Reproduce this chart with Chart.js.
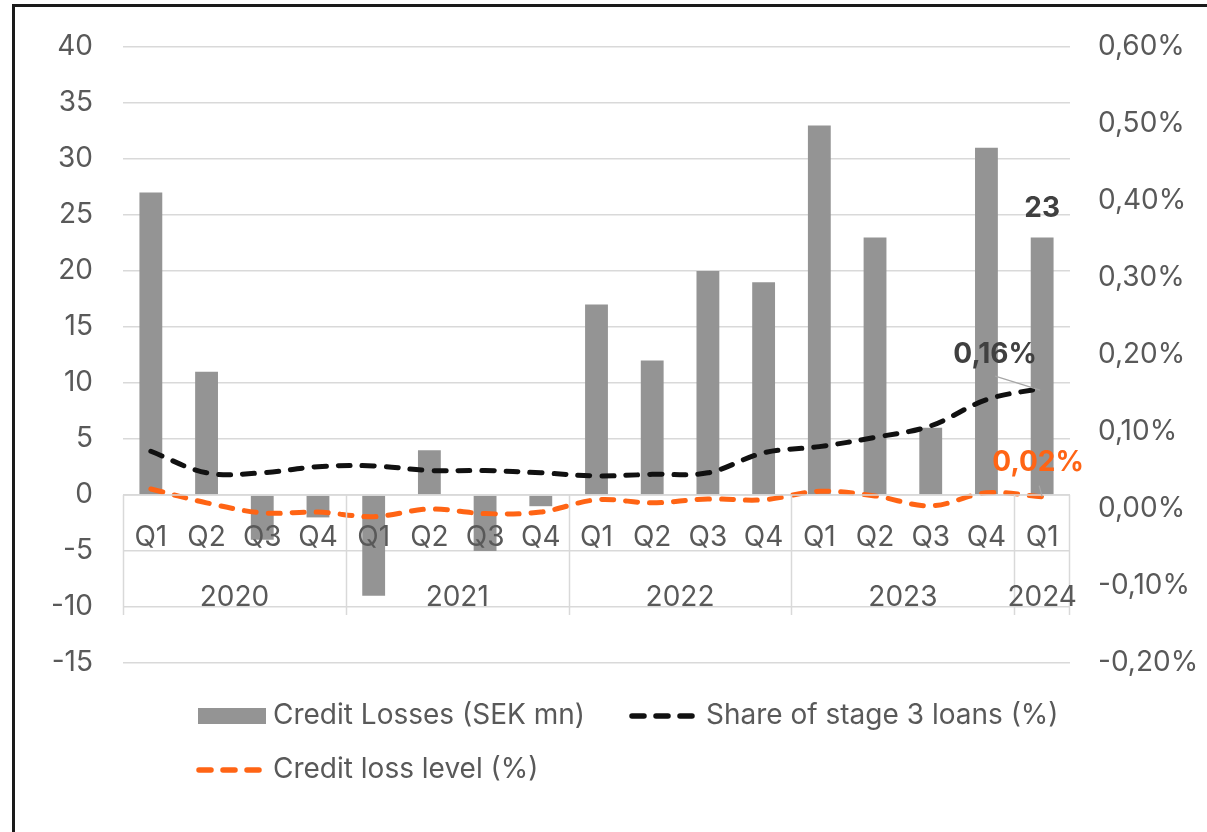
<!DOCTYPE html>
<html>
<head>
<meta charset="utf-8">
<title>Credit losses</title>
<script src="https://cdn.jsdelivr.net/npm/chart.js@4.4.1/dist/chart.umd.min.js"></script>
<style>
  html, body { margin: 0; padding: 0; background: #fff; overflow: hidden; }
  #wrap { position: relative; width: 1207px; height: 832px; }
  #frame { position: absolute; left: 12px; top: 4px; width: 1400px; height: 1000px;
           border-top: 3px solid #1a1a1a; border-left: 3px solid #1a1a1a; }
  #chart { position: absolute; left: 0; top: 0; }
</style>
</head>
<body>
<div id="wrap">
  <div id="frame"></div>
  <canvas id="chart" width="1207" height="832"></canvas>
</div>
<script>
// Datos
const quarters = ["Q1", "Q2", "Q3", "Q4", "Q1", "Q2", "Q3", "Q4", "Q1", "Q2", "Q3", "Q4", "Q1", "Q2", "Q3", "Q4", "Q1"];
const yearOfQuarter = ["2020", "2020", "2020", "2020", "2021", "2021", "2021", "2021", "2022", "2022", "2022", "2022", "2023", "2023", "2023", "2023", "2024"];
const creditLosses = [27, 11, -4, -2, -9, 4, -5, -1, 17, 12, 20, 19, 33, 23, 6, 31, 23];
const stage3Share = [0.075, 0.047, 0.047, 0.055, 0.056, 0.050, 0.050, 0.047, 0.043, 0.045, 0.047, 0.073, 0.081, 0.093, 0.108, 0.142, 0.157];
const creditLossLevel = [0.026, 0.008, -0.005, -0.004, -0.010, 0.000, -0.006, -0.004, 0.012, 0.008, 0.013, 0.012, 0.023, 0.017, 0.004, 0.021, 0.016];

const GRAY = "#949494";
const BLACK = "#111111";
const ORANGE = "#ff6414";
const TEXT = "#595959";
const GRID = "#d9d9d9";
const FONT = "Inter";
const FONT_SIZE = 28;

Chart.defaults.font.family = FONT;
Chart.defaults.font.size = FONT_SIZE;
Chart.defaults.color = TEXT;

const pct = v => v.toFixed(2).replace(".", ",") + "%";

// Eje de categorias en dos niveles (trimestre / año), como en Excel
const categoryAxis = {
    id: "categoryAxis",
    afterDatasetsDraw(chart) {
        const { ctx, chartArea, scales: { x, y } } = chart;
        const y0 = y.getPixelForValue(0);
        const half = (x.getPixelForValue(1) - x.getPixelForValue(0)) / 2;

        ctx.save();
        ctx.strokeStyle = GRID;
        ctx.lineWidth = 1.5;
        ctx.beginPath();
        ctx.moveTo(chartArea.left, y0);
        ctx.lineTo(chartArea.right, y0);
        ctx.stroke();

        // grupos por año
        const groups = [];
        yearOfQuarter.forEach((yr, i) => {
            if (i === 0 || yr !== yearOfQuarter[i - 1]) groups.push({ year: yr, start: i, end: i });
            else groups[groups.length - 1].end = i;
        });

        ctx.beginPath();
        groups.forEach(g => {
            const px = Math.round(x.getPixelForValue(g.start) - half) + 0.5;
            ctx.moveTo(px, y0);
            ctx.lineTo(px, y0 + 120);
        });
        const last = Math.round(x.getPixelForValue(quarters.length - 1) + half) - 0.5;
        ctx.moveTo(last, y0);
        ctx.lineTo(last, y0 + 120);
        ctx.stroke();

        ctx.fillStyle = TEXT;
        ctx.font = `${FONT_SIZE}px ${FONT}`;
        ctx.textAlign = "center";
        ctx.textBaseline = "middle";
        quarters.forEach((q, i) => ctx.fillText(q, x.getPixelForValue(i), y0 + 43));
        groups.forEach(g => {
            const cx = (x.getPixelForValue(g.start) + x.getPixelForValue(g.end)) / 2;
            ctx.fillText(g.year, cx, y0 + 103);
        });
        ctx.restore();
    }
};

// Etiquetas del último punto
const lastLabels = {
    id: "lastLabels",
    afterDatasetsDraw(chart) {
        const { ctx } = chart;
        const n = quarters.length - 1;
        const bar = chart.getDatasetMeta(2).data[n];
        const share = chart.getDatasetMeta(0).data[n];
        const level = chart.getDatasetMeta(1).data[n];

        ctx.save();
        ctx.font = `bold ${FONT_SIZE}px ${FONT}`;
        ctx.textAlign = "center";
        ctx.textBaseline = "middle";

        ctx.fillStyle = "#404040";
        ctx.fillText(String(creditLosses[n]), bar.x, bar.y - 29);

        // lineas guia
        ctx.strokeStyle = "#a6a6a6";
        ctx.lineWidth = 1.2;
        ctx.beginPath();
        ctx.moveTo(share.x - 47, share.y - 12);
        ctx.lineTo(share.x - 2, share.y + 2);
        ctx.moveTo(level.x - 3, level.y - 11);
        ctx.lineTo(level.x, level.y);
        ctx.stroke();

        ctx.fillStyle = "#404040";
        ctx.fillText(pct(stage3Share[n]), share.x - 47, share.y - 34);
        ctx.fillStyle = ORANGE;
        ctx.fillText(pct(creditLossLevel[n]), level.x - 4, level.y - 34);
        ctx.restore();
    }
};

// Leyenda en dos filas
const legendColumns = [198, 631];
const legendRows = [716, 770];
const legendOrder = [2, 0, 1];

const bottomLegend = {
    id: "bottomLegend",
    afterDraw(chart) {
        const { ctx } = chart;
        ctx.save();
        ctx.font = `${FONT_SIZE}px ${FONT}`;
        ctx.textBaseline = "middle";
        ctx.textAlign = "left";
        legendOrder.forEach((dsIndex, k) => {
            const ds = chart.data.datasets[dsIndex];
            const x = legendColumns[k % 2];
            const yc = legendRows[Math.floor(k / 2)];
            if (ds.type === "bar") {
                ctx.fillStyle = ds.backgroundColor;
                ctx.fillRect(x, yc - 8, 68, 16);
            } else {
                ctx.strokeStyle = ds.borderColor;
                ctx.lineWidth = ds.borderWidth + 0.5;
                ctx.lineCap = ds.borderCapStyle;
                ctx.setLineDash(ds.borderDash);
                ctx.beginPath();
                ctx.moveTo(x + 1, yc);
                ctx.lineTo(x + 64, yc);
                ctx.stroke();
                ctx.setLineDash([]);
            }
            ctx.fillStyle = TEXT;
            ctx.fillText(ds.label, x + 75, yc);
        });
        ctx.restore();
    }
};

const lineStyle = {
    type: "line",
    yAxisID: "y1",
    borderWidth: 5,
    borderDash: [12, 12],
    borderCapStyle: "round",
    pointRadius: 0,
    tension: 0.35,
    fill: false,
    order: 1
};

const chart = new Chart(document.getElementById("chart"), {
    type: "bar",
    data: {
        labels: quarters,
        datasets: [
            { ...lineStyle, label: "Share of stage 3 loans (%)", data: stage3Share, borderColor: BLACK },
            { ...lineStyle, label: "Credit loss level (%)", data: creditLossLevel, borderColor: ORANGE },
            {
                type: "bar",
                label: "Credit Losses (SEK mn)",
                data: creditLosses,
                yAxisID: "y",
                backgroundColor: GRAY,
                barPercentage: 0.41,
                categoryPercentage: 1,
                order: 2
            }
        ]
    },
    options: {
        responsive: false,
        animation: false,
        layout: { padding: { top: 47, bottom: 169, left: 0, right: 0 } },
        plugins: {
            legend: { display: false },
            tooltip: { enabled: false }
        },
        scales: {
            x: { display: false, offset: true },
            y: {
                position: "left",
                min: -15,
                max: 40,
                ticks: { stepSize: 5, padding: 30 },
                grid: { color: GRID, lineWidth: 1.5, drawTicks: false },
                border: { display: false },
                afterFit: s => { s.width = 123; }
            },
            y1: {
                position: "right",
                min: -0.2,
                max: 0.6,
                ticks: { stepSize: 0.1, padding: 28, callback: v => pct(v) },
                grid: { display: false, drawTicks: false },
                border: { display: false },
                afterFit: s => { s.width = 137; }
            }
        }
    },
    plugins: [categoryAxis, lastLabels, bottomLegend]
});
</script>
</body>
</html>
